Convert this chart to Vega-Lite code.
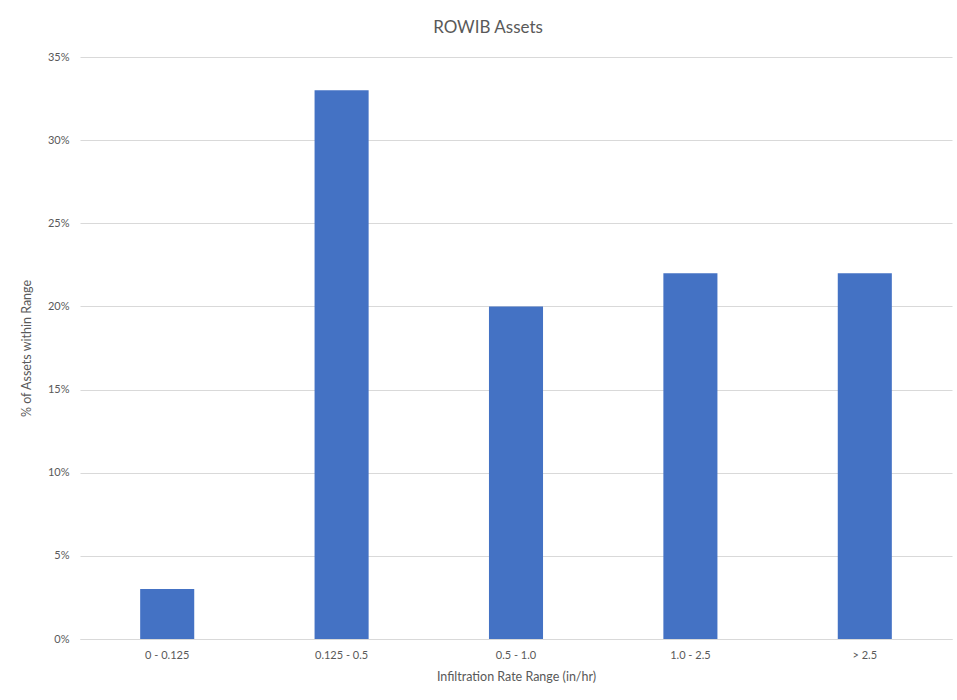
{
  "$schema": "https://vega.github.io/schema/vega-lite/v6.json",
  "width": 872,
  "height": 582,
  "autosize": {"type": "none"},
  "padding": {"left": 80, "top": 57, "right": 5, "bottom": 61},
  "background": "white",
  "config": {
    "font": "Lato",
    "view": {"stroke": null},
    "axis": {"labelColor": "#595959", "titleColor": "#595959", "labelFontSize": 11, "titleFontSize": 12.5, "titleFontWeight": "normal", "gridColor": "#d9d9d9", "domainColor": "#d9d9d9", "ticks": false}
  },
  "title": {"text": "ROWIB Assets", "fontSize": 17, "fontWeight": "normal", "color": "#595959", "anchor": "middle", "dx": -28, "offset": 14},
  "data": {
    "values": [
      {"range": "0 - 0.125", "pct": 0.03},
      {"range": "0.125 - 0.5", "pct": 0.33},
      {"range": "0.5 - 1.0", "pct": 0.20},
      {"range": "1.0 - 2.5", "pct": 0.22},
      {"range": "> 2.5", "pct": 0.22}
    ]
  },
  "mark": {"type": "bar", "color": "#4472C4"},
  "encoding": {
    "x": {
      "field": "range", "type": "nominal", "sort": null,
      "scale": {"paddingInner": 0.69, "paddingOuter": 0.345},
      "axis": {"title": "Infiltration Rate Range (in/hr)", "labelAngle": 0, "labelPadding": 10, "titlePadding": 10, "grid": false}
    },
    "y": {
      "field": "pct", "type": "quantitative",
      "scale": {"domain": [0, 0.35], "nice": false},
      "axis": {"title": "% of Assets within Range", "format": ".0%", "values": [0, 0.05, 0.1, 0.15, 0.2, 0.25, 0.3, 0.35], "domain": false, "labelPadding": 11, "titlePadding": 14}
    }
  }
}
